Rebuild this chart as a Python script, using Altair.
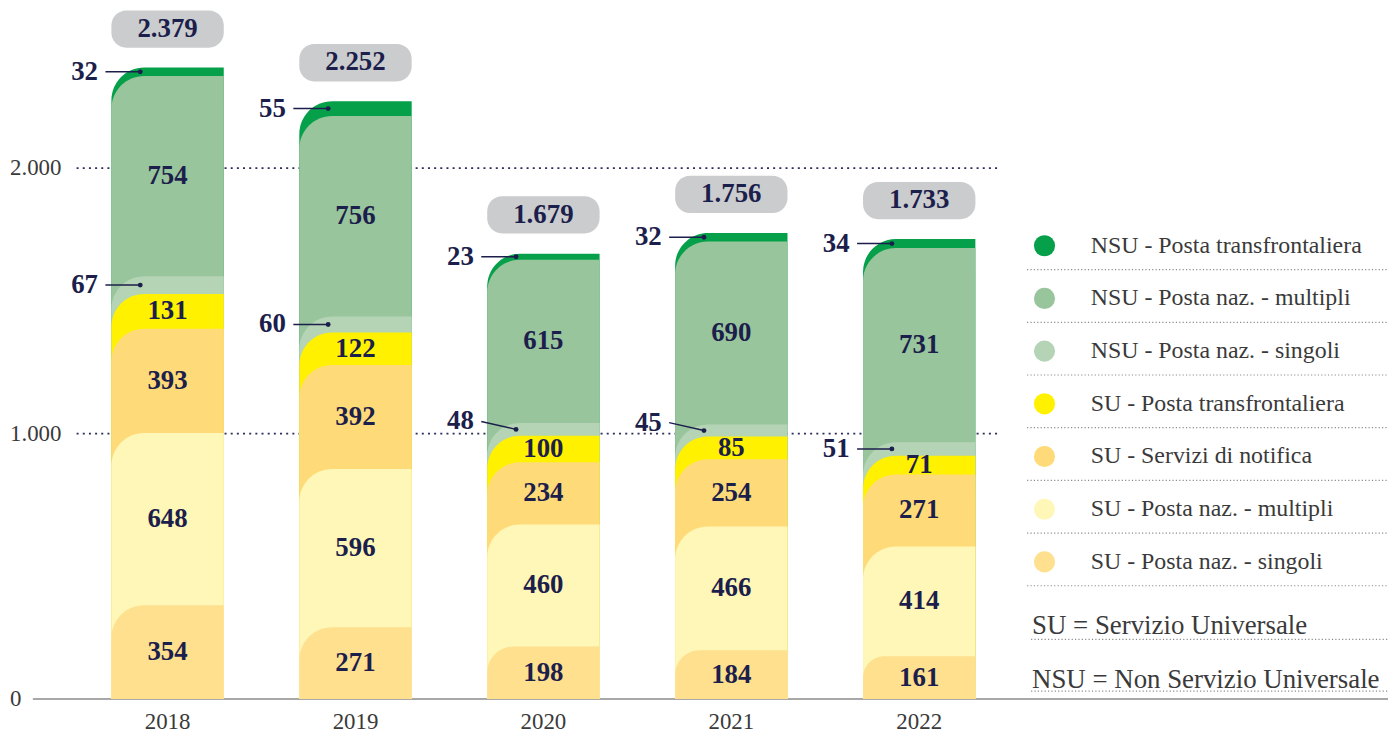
import altair as alt
import pandas as pd

years = ["2018", "2019", "2020", "2021", "2022"]
series = [
    "NSU - Posta transfrontaliera",
    "NSU - Posta naz. - multipli",
    "NSU - Posta naz. - singoli",
    "SU - Posta transfrontaliera",
    "SU - Servizi di notifica",
    "SU - Posta naz. - multipli",
    "SU - Posta naz. - singoli",
]
colors = ["#06A04A", "#98C59B", "#B5D3B5", "#FFF100", "#FEDB78", "#FFF7B7", "#FEE08E"]

su_singoli = [354, 271, 198, 184, 161]
su_multipli = [648, 596, 460, 466, 414]
su_notifica = [393, 392, 234, 254, 271]
su_transfr = [131, 122, 100, 85, 71]
nsu_singoli = [67, 60, 48, 45, 51]
nsu_multipli = [754, 756, 615, 690, 731]
nsu_transfr = [32, 55, 23, 32, 34]
totals = [2379, 2252, 1679, 1756, 1733]
y_ticks = [0, 1000, 2000]
notes = ["SU = Servizio Universale", "NSU = Non Servizio Universale"]

FONT = "Liberation Serif"
NAVY = "#1C1E4B"
GREY_TXT = "#3A3A3A"

# ---- table (drawing order: top series first, so lower segments overlap) ----
stack_bottom_up = [su_singoli, su_multipli, su_notifica, su_transfr,
                   nsu_singoli, nsu_multipli, nsu_transfr]
names_bottom_up = series[::-1]
rows = []
for i, yr in enumerate(years):
    cum = 0
    recs = []
    for name, vals in zip(names_bottom_up, stack_bottom_up):
        v = vals[i]
        recs.append(dict(year=yr, series=name, value=v, top=cum + v, mid=cum + v / 2))
        cum += v
    rows.extend(reversed(recs))
df = pd.DataFrame(rows)
tot_df = pd.DataFrame({"year": years, "total": totals})
tick_df = pd.DataFrame({"v": y_ticks})
leg_df = pd.DataFrame({"series": series, "idx": list(range(len(series)))})

yscale = alt.Scale(domain=[0, 2000], range=[693, 159], nice=False, zero=True)
xscale = alt.Scale(domain=years, range=[66, 1011], paddingInner=0.402, paddingOuter=0.201)
X = alt.X("year:N", scale=xscale, axis=None)
colscale = alt.Scale(domain=series, range=colors)

def Y(field):
    return alt.Y(field, scale=yscale, axis=None, stack=None)

grid = alt.Chart(tick_df).transform_filter("datum.v > 0").mark_rule(
    color="#2A2C5C", strokeWidth=1.8, strokeDash=[2, 4.2]
).encode(y=Y("v:Q"), x=alt.value(69), x2=alt.value(995))

baseline = alt.Chart(tick_df).transform_filter("datum.v == 0").mark_rule(
    color="#A8A8A8", strokeWidth=2
).encode(y=Y("v:Q"), x=alt.value(25), x2=alt.value(1388))

bars = alt.Chart(df).mark_bar(cornerRadiusTopLeft=33).encode(
    x=X, y=Y("top:Q"),
    color=alt.Color("series:N", scale=colscale, legend=None),
)

inner = alt.Chart(df).transform_filter(
    alt.FieldOneOfPredicate(field="series", oneOf=series[1:2] + series[3:])
).mark_text(font=FONT, fontSize=27, fontWeight="bold", color=NAVY, baseline="middle").encode(
    x=X, y=Y("mid:Q"), text="value:Q"
)

is_cal = "(datum.series == 'NSU - Posta transfrontaliera' || datum.series == 'NSU - Posta naz. - singoli')"
shifted = "(datum.series == 'NSU - Posta naz. - singoli' && (datum.year == '2020' || datum.year == '2021'))"

def callouts(cond, dy):
    base = alt.Chart(df).transform_filter(cond)
    line = base.mark_rule(color=NAVY, strokeWidth=1.5, xOffset=-62.5, x2Offset=-27.5,
                          yOffset=dy, y2Offset=0).encode(
        x=X, x2="year:N", y=Y("mid:Q"), y2="mid:Q")
    dot = base.mark_circle(color=NAVY, size=24, opacity=1, xOffset=-27.5).encode(
        x=X, y=Y("mid:Q"))
    lab = base.mark_text(align="right", baseline="middle", xOffset=-70, yOffset=dy,
                         font=FONT, fontSize=27, fontWeight="bold", color=NAVY).encode(
        x=X, y=Y("mid:Q"), text="value:Q")
    return [line, dot, lab]

cal_a = callouts(f"{is_cal} && !{shifted}", 0)
cal_b = callouts(f"{is_cal} && {shifted}", -8)

badge = alt.Chart(tot_df).mark_bar(color="#CBCCCE", cornerRadius=15, yOffset=-57.5, y2Offset=-20).encode(
    x=X, y=Y("total:Q"), y2="total:Q")
badge_txt = alt.Chart(tot_df).transform_calculate(
    label="replace(format(datum.total, ','), ',', '.')"
).mark_text(font=FONT, fontSize=27, fontWeight="bold", color=NAVY, baseline="middle", yOffset=-39).encode(
    x=X, y=Y("total:Q"), text="label:N")

ylabels = alt.Chart(tick_df).transform_calculate(
    label="replace(format(datum.v, ','), ',', '.')"
).mark_text(font=FONT, fontSize=23, color=GREY_TXT, align="left", baseline="middle").encode(
    x=alt.value(2), y=Y("v:Q"), text="label:N")

xlabels = alt.Chart(tot_df).mark_text(font=FONT, fontSize=23, color=GREY_TXT, baseline="middle").encode(
    x=X, y=alt.value(716), text="year:N")

main = alt.layer(grid, baseline, bars, inner, *cal_a, *cal_b, badge, badge_txt, ylabels, xlabels)

LY = alt.Y("idx:Q", scale=alt.Scale(domain=[0, 6], range=[237, 555], nice=False, zero=False), axis=None)
leg_sep = alt.Chart(leg_df).mark_rule(color="#8C8C8C", strokeWidth=1.2, strokeDash=[1.2, 2.2], yOffset=24).encode(
    y=LY, x=alt.value(1025), x2=alt.value(1388))
leg_dot = alt.Chart(leg_df).mark_circle(size=452, opacity=1).encode(
    y=LY, x=alt.value(1042.5), color=alt.Color("series:N", scale=colscale, legend=None))
leg_txt = alt.Chart(leg_df).mark_text(font=FONT, fontSize=24, color=GREY_TXT, align="left", baseline="middle").encode(
    y=LY, x=alt.value(1089), text="series:N")

note_layers = []
for t, ty, uy in zip(notes, [620, 674], [633, 685]):
    nd = pd.DataFrame({"t": [t]})
    note_layers.append(alt.Chart(nd).mark_text(font=FONT, fontSize=27, color=GREY_TXT, align="left", baseline="middle").encode(
        x=alt.value(1030), y=alt.value(ty), text="t:N"))
    note_layers.append(alt.Chart(nd).mark_rule(color="#8C8C8C", strokeWidth=1.2, strokeDash=[1.2, 2.2]).encode(
        x=alt.value(1029), x2=alt.value(1388), y=alt.value(uy)))

legend = alt.layer(leg_sep, leg_dot, leg_txt, *note_layers)

chart = alt.layer(main, legend).resolve_scale(y="independent").properties(
    width=1388, height=728, padding=0, background="white",
    autosize=alt.AutoSizeParams(type="none"),
).configure_view(stroke=None)

chart.save("out.html", embed_options={"renderer": "svg", "actions": False})
